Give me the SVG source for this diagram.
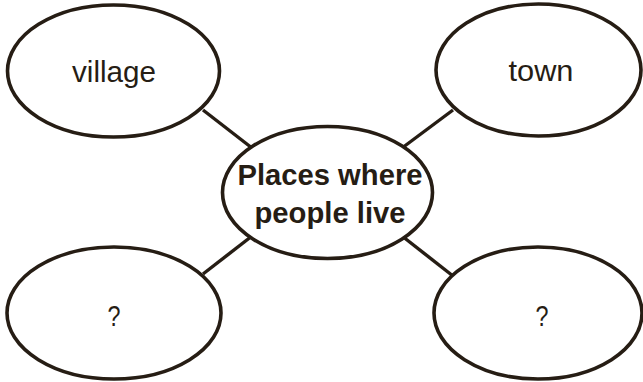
<svg xmlns="http://www.w3.org/2000/svg" width="643" height="382" viewBox="0 0 643 382">
<style>
.n{fill:#fff;stroke:#261d14;stroke-width:3.6}
.c{stroke:#261d14;stroke-width:3.4;fill:none}
.t{font-family:"Liberation Sans",Arial,sans-serif;font-size:29.5px;fill:#261d14;text-anchor:middle}
.b{font-weight:bold}
</style>
<rect width="643" height="382" fill="#fff"/>
<g id="connectors">
<line class="c" x1="203" y1="110" x2="252" y2="148"/>
<line class="c" x1="453" y1="110" x2="402" y2="148"/>
<line class="c" x1="203" y1="274" x2="252" y2="236"/>
<line class="c" x1="453" y1="276" x2="402" y2="236"/>
</g>
<g id="village">
<ellipse class="n" cx="113.5" cy="71" rx="106" ry="66"/>
<text class="t" x="114" y="82" textLength="84" lengthAdjust="spacingAndGlyphs">village</text>
</g>
<g id="town">
<ellipse class="n" cx="538.5" cy="70" rx="102.5" ry="66"/>
<text class="t" x="541" y="81" textLength="65" lengthAdjust="spacingAndGlyphs">town</text>
</g>
<g id="center">
<ellipse class="n" cx="327.5" cy="192.5" rx="105" ry="66"/>
<text class="t b" x="330" y="185" textLength="185" lengthAdjust="spacingAndGlyphs">Places where</text>
<text class="t b" x="330" y="223" textLength="151" lengthAdjust="spacingAndGlyphs">people live</text>
</g>
<g id="unknown-left">
<ellipse class="n" cx="114" cy="313" rx="107" ry="66"/>
<text class="t" x="114" y="326" textLength="13" lengthAdjust="spacingAndGlyphs">?</text>
</g>
<g id="unknown-right">
<ellipse class="n" cx="538" cy="313" rx="104" ry="66"/>
<text class="t" x="542" y="326" textLength="13" lengthAdjust="spacingAndGlyphs">?</text>
</g>
</svg>
